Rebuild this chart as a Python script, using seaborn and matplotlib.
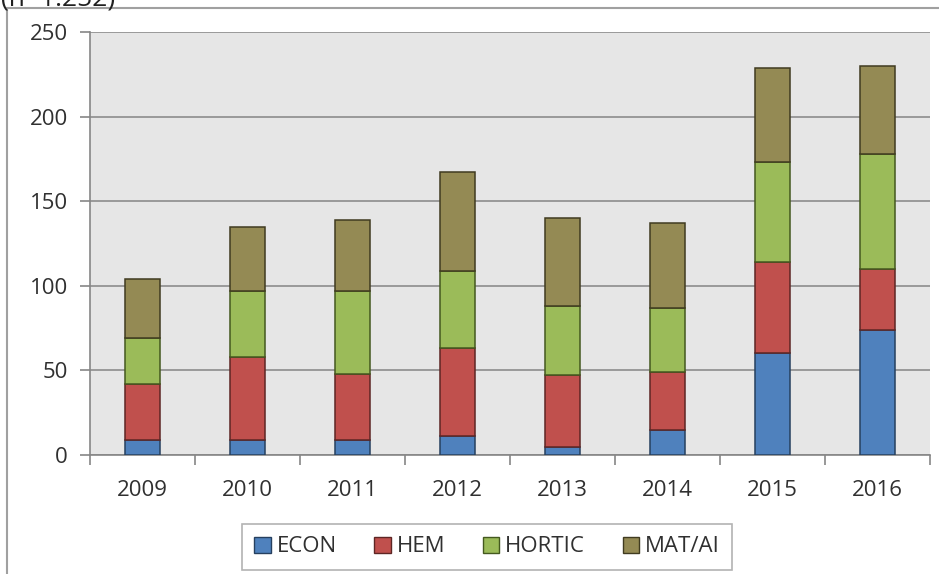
import matplotlib
matplotlib.use("Agg")
import matplotlib.pyplot as plt
from matplotlib.patches import Rectangle, Patch
import seaborn as sns
import pandas as pd

years = ["2009", "2010", "2011", "2012", "2013", "2014", "2015", "2016"]
econ = [9, 9, 9, 11, 5, 15, 60, 74]
hem = [33, 49, 39, 52, 42, 34, 54, 36]
hortic = [27, 39, 49, 46, 41, 38, 59, 68]
mat_ai = [35, 38, 42, 58, 52, 50, 56, 52]
series_names = ["ECON", "HEM", "HORTIC", "MAT/AI"]
y_ticks = [0, 50, 100, 150, 200, 250]

colors = ["#4f81bd", "#c0504d", "#9bbb59", "#948a54"]
edges = ["#26405f", "#5e2624", "#44591f", "#403b20"]

sns.set_theme(style="white")
plt.rcParams["font.family"] = ["Open Sans", "DejaVu Sans"]

df = pd.DataFrame({"year": years, "ECON": econ, "HEM": hem,
                   "HORTIC": hortic, "MAT/AI": mat_ai})

fig = plt.figure(figsize=(9.39, 5.74), dpi=100)
W, H = 939, 574
ax = fig.add_axes([90 / W, 1 - 455 / H, (930 - 90) / W, (455 - 32) / H])
ax.set_facecolor("#e6e6e6")

bottom = [0] * len(years)
for name, col, ec in zip(series_names, colors, edges):
    sns.barplot(data=df, x="year", y=name, ax=ax, color=col, width=0.335,
                bottom=bottom, edgecolor=ec, linewidth=1.1, saturation=1,
                zorder=3)
    bottom = [b + v for b, v in zip(bottom, df[name])]

ax.set_ylim(0, 250)
ax.set_xlim(-0.5, len(years) - 0.5)
ax.set_yticks(y_ticks)
ax.set_xlabel("")
ax.set_ylabel("")
ax.yaxis.grid(True, color="#8c8c8c", linewidth=1.2, zorder=0)
ax.set_axisbelow(True)

for s in ["top", "right"]:
    ax.spines[s].set_visible(False)
for s in ["left", "bottom"]:
    ax.spines[s].set_color("#868686")
    ax.spines[s].set_linewidth(1.2)

ax.tick_params(axis="y", which="major", length=7, width=1.2, color="#868686",
               labelsize=16, labelcolor="#303030", pad=9, left=True)
ax.tick_params(axis="x", which="major", length=0, labelsize=16,
               labelcolor="#303030", pad=18)
ax.set_xticks([i + 0.5 for i in range(-1, len(years))], minor=True)
ax.tick_params(axis="x", which="minor", length=7, width=1.2, color="#868686",
               bottom=True)

# outer chart frame
fig.patches.append(Rectangle((7 / W, -0.1), 1.2, 1 - 8 / H + 0.1,
                             transform=fig.transFigure, fill=False,
                             edgecolor="#a0a0a0", linewidth=1.5))

fig.text(1 / W, 1 - 5 / H, "(n=1.252)", fontsize=19, color="#202020",
         va="baseline", ha="left")

handles = [Patch(facecolor=c, edgecolor=e, label=n)
           for n, c, e in zip(series_names, colors, edges)]
leg = fig.legend(handles=handles, loc="center", ncol=4,
                 bbox_to_anchor=(487 / W, 1 - 547 / H), frameon=True,
                 fontsize=16, handlelength=0.75, handleheight=0.75,
                 handletextpad=0.25, columnspacing=1.7, borderpad=0.55,
                 fancybox=False)
leg.get_frame().set_edgecolor("#a0a0a0")
leg.get_frame().set_linewidth(1.2)
for t in leg.get_texts():
    t.set_color("#303030")

fig.savefig("out.png", dpi=100)
